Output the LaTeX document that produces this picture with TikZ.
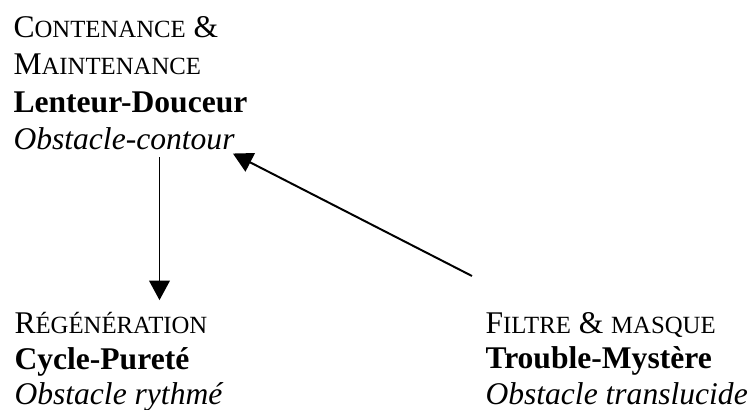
\documentclass[tikz,border=0pt]{standalone}
\usepackage{fontspec}
\setmainfont{Liberation Serif}
\usetikzlibrary{arrows.meta}
\newcommand{\petitcap}[1]{{\fontsize{9.4}{11}\selectfont #1}}

\begin{document}
\begin{tikzpicture}[x=0.38pt, y=-0.38pt,
        bloc/.style = {align=left, anchor=north west, inner sep=0pt, font=\fontsize{12}{14.2}\selectfont},
        blocbas/.style = {bloc, font=\fontsize{12}{13.4}\selectfont},
        fleche/.style = {-{Triangle[length=7.4pt, width=7.8pt]}, line width=0.75pt}]
    \useasboundingbox (0,0) rectangle (752,410);

    \node[bloc] (contenance) at (13,16) {C\petitcap{ONTENANCE} \&\\ M\petitcap{AINTENANCE}\\ \textbf{Lenteur-Douceur}\\ \textit{Obstacle-contour}};
    \node[blocbas] (regen) at (14,312) {R\petitcap{ÉGÉNÉRATION}\\ \textbf{Cycle-Pureté}\\ \textit{Obstacle rythmé}};
    \node[blocbas] (filtre) at (485,312) {F\petitcap{ILTRE} \& \petitcap{MASQUE}\\ \textbf{Trouble-Mystère}\\ \textit{Obstacle translucide}};

    \coordinate (vx) at (159.5,0);
    \draw[fleche] ([yshift=-2.5pt]vx |- contenance.south) -- ([yshift=4.5pt]vx |- regen.north);
    \draw[fleche] ([shift={(-13,-36)}]filtre.north west) -- ([shift={(-15,3)}]contenance.south east);
\end{tikzpicture}
\end{document}
